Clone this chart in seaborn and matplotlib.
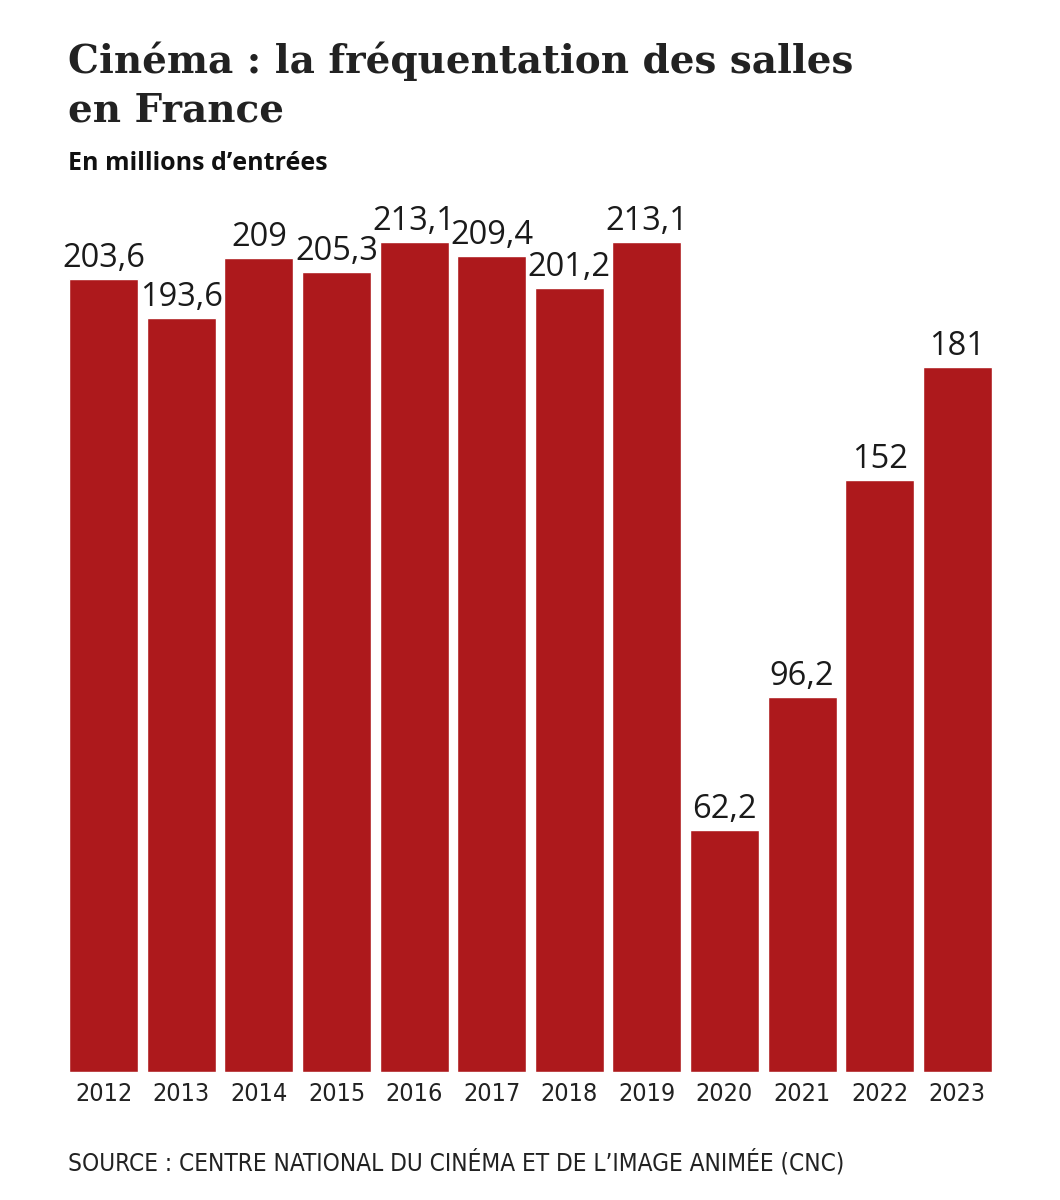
import matplotlib
matplotlib.use("Agg")
import matplotlib.pyplot as plt
import seaborn as sns
import pandas as pd

years = ["2012", "2013", "2014", "2015", "2016", "2017",
         "2018", "2019", "2020", "2021", "2022", "2023"]
entrees = [203.6, 193.6, 209, 205.3, 213.1, 209.4,
           201.2, 213.1, 62.2, 96.2, 152, 181]
labels = ["203,6", "193,6", "209", "205,3", "213,1", "209,4",
          "201,2", "213,1", "62,2", "96,2", "152", "181"]

df = pd.DataFrame({"annee": years, "entrees": entrees})

sns.set_style("white")
plt.rcParams['font.family'] = ['Open Sans', 'DejaVu Sans']

fig = plt.figure(figsize=(10.6, 12), dpi=100)
ax = fig.add_axes([65/1060, 1 - 1072/1200, 931/1060, 872/1200])

sns.barplot(data=df, x="annee", y="entrees", color="#ad191c",
            saturation=1, width=0.89, ax=ax)
ax.set_ylim(0, 872/3.895)
ax.set_xlim(-0.5, 11.5)

ax.bar_label(ax.containers[0], labels=labels, padding=3,
             fontsize=23.5, color="#1a1a1a")

ax.set_xlabel("")
ax.set_ylabel("")
ax.set_yticks([])
ax.tick_params(axis="x", length=0, pad=7)
for t in ax.get_xticklabels():
    t.set_family("DejaVu Sans")
    t.set_fontstretch("condensed")
    t.set_fontsize(18)
    t.set_color("#222222")
sns.despine(left=True, bottom=True)

fig.text(68/1060, 1 - 73/1200, "Cinéma : la fréquentation des salles",
         fontsize=28, fontweight="bold", family="DejaVu Serif",
         color="#222222", va="baseline")
fig.text(68/1060, 1 - 121/1200, "en France",
         fontsize=28, fontweight="bold", family="DejaVu Serif",
         color="#222222", va="baseline")
fig.text(68/1060, 1 - 170/1200, "En millions d’entrées",
         fontsize=18, fontweight="bold", color="#111111", va="baseline")
fig.text(68/1060, 1 - 1170/1200,
         "SOURCE : CENTRE NATIONAL DU CINÉMA ET DE L’IMAGE ANIMÉE (CNC)",
         fontsize=17.5, family="DejaVu Sans", fontstretch="condensed",
         color="#222222", va="baseline")

fig.savefig("out.png", dpi=100, facecolor="white")
